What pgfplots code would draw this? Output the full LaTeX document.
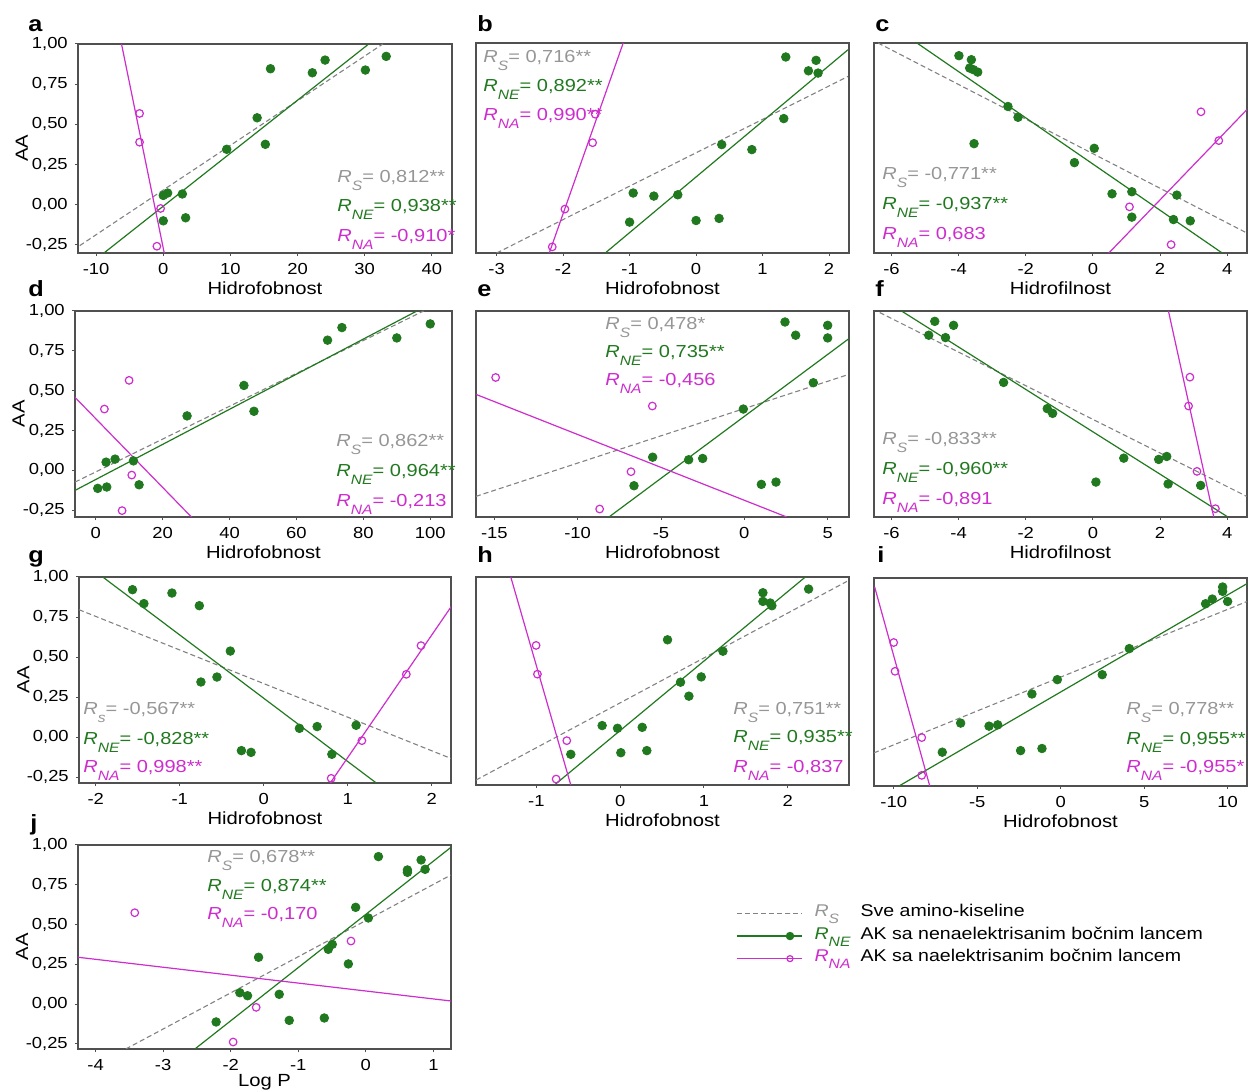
\documentclass[border=0pt]{standalone}
\usepackage{pgfplots}
\pgfplotsset{compat=1.18}
\usepackage{fontspec}
\setmainfont{Liberation Sans}[FakeStretch=1.15]
\definecolor{cgreen}{RGB}{33,121,31}
\definecolor{cmag}{RGB}{205,45,205}
\definecolor{cgray}{RGB}{150,150,150}
\definecolor{cdash}{RGB}{130,130,130}
\definecolor{cframe}{RGB}{80,80,80}
\newcommand{\Rs}[1]{\textit{R}\raisebox{-0.42em}{\fontsize{6.8}{7}\selectfont\textit{#1}}}
\pgfplotsset{
  panel/.style={
    scale only axis, anchor=north west, ymax=1,
    axis line style={draw=cframe, line width=0.6pt},
    tick align=outside, major tick length=1.6pt,
    tick style={draw=cframe, line width=0.5pt},
    xtick pos=bottom, ytick pos=left,
    ytick=\empty,
    /pgf/number format/assume math mode=true,
    tick label style={font=\fontsize{8}{9}\selectfont},
    label style={font=\fontsize{8.8}{10}\selectfont},
    xlabel style={at={(axis description cs:0.5,0)}, anchor=base, yshift=-21pt},
    ylabel style={at={(axis description cs:-0.15,0.5)}, anchor=center},
  },
  leftcol/.style={
    ytick={-0.25,0,0.25,0.5,0.75,1},
    yticklabels={{-0,25},{0,00},{0,25},{0,50},{0,75},{1,00}},
    ylabel={AA},
  },
  gdots/.style={only marks, mark=*, mark size=2.15pt, color=cgreen, forget plot},
  mcirc/.style={only marks, mark=o, mark size=1.9pt, mark options={line width=0.6pt}, color=cmag, forget plot},
  sline/.style={color=cdash, dash pattern=on 2.5pt off 1.5pt, line width=0.55pt, no marks, forget plot},
  neline/.style={color=cgreen, line width=0.6pt, no marks, forget plot},
  naline/.style={color=cmag, line width=0.6pt, no marks, forget plot},
}
\begin{document}
\begin{tikzpicture}
\useasboundingbox (0,0) rectangle (625pt,-545pt);
% ---------- a ----------
\begin{axis}[panel, leftcol, at={(39pt,-22pt)}, width=187pt, height=104.5pt,
  xmin=-12.7, xmax=43, ymin=-0.30, xtick={-10,0,...,40}, xlabel={Hidrofobnost}]
\addplot[sline] coordinates {(-12.44,-0.254) (32.7,1.0)};
\addplot[neline] coordinates {(-8.86,-0.301) (30.6,1.0)};
\addplot[naline] coordinates {(-6.22,1.0) (0.15,-0.301)};
\addplot[gdots] coordinates {(0,0.058) (0.65,0.073) (2.84,0.067) (0,-0.10) (3.33,-0.081) (9.45,0.345) (13.98,0.541) (15.2,0.376) (15.97,0.846) (22.2,0.821) (24.1,0.90) (30.1,0.838) (33.2,0.923)};
\addplot[mcirc] coordinates {(-3.53,0.568) (-3.53,0.389) (-0.4,-0.023) (-0.95,-0.258)};
\end{axis}
% ---------- b ----------
\begin{axis}[panel, at={(238pt,-21.5pt)}, width=186.5pt, height=105pt,
  xmin=-3.31, xmax=2.30, ymin=-0.306, xtick={-3,...,2}, xlabel={Hidrofobnost}]
\addplot[sline] coordinates {(-3.0,-0.306) (2.285,0.792)};
\addplot[neline] coordinates {(-1.366,-0.306) (2.285,0.958)};
\addplot[naline] coordinates {(-2.208,-0.306) (-1.096,1.0)};
\addplot[gdots] coordinates {(1.349,0.913) (1.805,0.892) (1.69,0.827) (1.835,0.813) (1.319,0.530) (0.386,0.368) (0.839,0.337) (-0.946,0.067) (-0.635,0.048) (-0.275,0.056) (-1.0,-0.114) (0.0,-0.104) (0.346,-0.091)};
\addplot[mcirc] coordinates {(-1.516,0.557) (-1.556,0.380) (-1.973,-0.033) (-2.163,-0.268)};
\end{axis}
% ---------- c ----------
\begin{axis}[panel, at={(437pt,-21.5pt)}, width=186.5pt, height=105pt,
  xmin=-6.52, xmax=4.59, ymin=-0.306, xtick={-6,-4,...,4}, xlabel={Hidrofilnost}]
\addplot[sline] coordinates {(-6.40,1.0) (4.58,-0.181)};
\addplot[neline] coordinates {(-5.24,1.0) (3.85,-0.306)};
\addplot[naline] coordinates {(0.476,-0.306) (4.58,0.584)};
\addplot[gdots] coordinates {(-3.99,0.921) (-3.62,0.896) (-3.67,0.844) (-3.56,0.834) (-3.43,0.819) (-2.53,0.605) (-2.23,0.538) (-3.54,0.374) (0.04,0.345) (-0.55,0.256) (0.57,0.062) (1.16,0.075) (2.5,0.054) (1.16,-0.083) (2.40,-0.098) (2.90,-0.106)};
\addplot[mcirc] coordinates {(3.22,0.572) (3.75,0.393) (1.09,-0.019) (2.33,-0.254)};
\end{axis}
% ---------- d ----------
\begin{axis}[panel, leftcol, at={(37.5pt,-155.5pt)}, width=188.5pt, height=103pt,
  xmin=-6.2, xmax=106.5, ymin=-0.292, xtick={0,20,...,100}, xlabel={Hidrofobnost}]
\addplot[sline] coordinates {(-6.18,-0.073) (98.0,1.0)};
\addplot[neline] coordinates {(-6.18,-0.125) (96.0,1.0)};
\addplot[naline] coordinates {(-6.18,0.458) (28.6,-0.292)};
\addplot[gdots] coordinates {(0.6,-0.1125) (3.29,-0.104) (3.09,0.052) (5.78,0.071) (11.27,0.060) (12.96,-0.090) (27.3,0.342) (44.3,0.533) (47.3,0.371) (69.3,0.817) (73.6,0.896) (90.0,0.831) (100,0.919)};
\addplot[mcirc] coordinates {(9.97,0.565) (2.59,0.385) (10.77,-0.029) (7.88,-0.252)};
\end{axis}
% ---------- e ----------
\begin{axis}[panel, at={(238pt,-155.5pt)}, width=186.5pt, height=103pt,
  xmin=-16.1, xmax=6.28, ymin=-0.292, xtick={-15,-10,...,5}, xlabel={Hidrofobnost}]
\addplot[sline] coordinates {(-16.1,-0.1625) (6.14,0.598)};
\addplot[neline] coordinates {(-8.12,-0.292) (6.28,0.827)};
\addplot[naline] coordinates {(-16.1,0.477) (2.54,-0.292)};
\addplot[gdots] coordinates {(2.44,0.931) (3.08,0.848) (5.0,0.910) (5.0,0.831) (4.14,0.55) (-0.06,0.385) (-5.5,0.083) (-3.34,0.067) (-2.5,0.075) (-6.62,-0.096) (1.02,-0.0875) (1.9,-0.073)};
\addplot[mcirc] coordinates {(-14.92,0.583) (-5.52,0.404) (-6.8,-0.008) (-8.68,-0.242)};
\end{axis}
% ---------- f ----------
\begin{axis}[panel, at={(437pt,-155.5pt)}, width=186.5pt, height=103pt,
  xmin=-6.52, xmax=4.59, ymin=-0.292, xtick={-6,-4,...,4}, xlabel={Hidrofilnost}]
\addplot[sline] coordinates {(-6.35,0.99) (4.58,-0.1625)};
\addplot[neline] coordinates {(-5.70,1.0) (4.02,-0.292)};
\addplot[naline] coordinates {(2.25,1.0) (3.60,-0.292)};
\addplot[gdots] coordinates {(-4.71,0.935) (-4.15,0.910) (-4.89,0.848) (-4.39,0.833) (-2.66,0.552) (-1.36,0.3875) (-1.2,0.358) (0.92,0.077) (1.96,0.069) (2.20,0.0875) (0.09,-0.073) (2.24,-0.085) (3.21,-0.094)};
\addplot[mcirc] coordinates {(2.89,0.585) (2.85,0.404) (3.10,-0.006) (3.65,-0.24)};
\end{axis}
% ---------- g ----------
\begin{axis}[panel, leftcol, at={(39.5pt,-288.5pt)}, width=186pt, height=103pt,
  xmin=-2.2, xmax=2.23, ymin=-0.285, xtick={-2,...,2}, xlabel={Hidrofobnost}]
\addplot[sline] coordinates {(-2.2,0.796) (2.235,-0.133)};
\addplot[neline] coordinates {(-1.917,1.0) (1.34,-0.285)};
\addplot[naline] coordinates {(0.787,-0.289) (2.235,0.817)};
\addplot[gdots] coordinates {(-1.563,0.921) (-1.427,0.834) (-1.093,0.900) (-0.767,0.821) (-0.398,0.538) (-0.748,0.345) (-0.557,0.376) (0.425,0.056) (0.636,0.067) (1.10,0.075) (0.811,-0.106) (-0.266,-0.083) (-0.151,-0.094)};
\addplot[mcirc] coordinates {(1.873,0.572) (1.698,0.393) (1.169,-0.021) (0.803,-0.256)};
\end{axis}
% ---------- h ----------
\begin{axis}[panel, at={(238pt,-288.5pt)}, width=186.5pt, height=104pt,
  xmin=-1.72, xmax=2.73, ymin=-0.295, xtick={-1,0,1,2}, xlabel={Hidrofobnost}]
\addplot[sline] coordinates {(-1.719,-0.264) (2.706,0.973)};
\addplot[neline] coordinates {(-0.784,-0.295) (2.209,1.0)};
\addplot[naline] coordinates {(-1.305,1.0) (-0.589,-0.295)};
\addplot[gdots] coordinates {(2.248,0.925) (1.703,0.902) (1.703,0.848) (1.79,0.838) (1.81,0.821) (0.565,0.609) (1.226,0.538) (0.72,0.345) (0.967,0.378) (0.82,0.258) (-0.215,0.075) (-0.032,0.058) (0.263,0.064) (-0.589,-0.104) (0.008,-0.094) (0.318,-0.081)};
\addplot[mcirc] coordinates {(-1.003,0.574) (-0.987,0.395) (-0.637,-0.019) (-0.764,-0.258)};
\end{axis}
% ---------- i ----------
\begin{axis}[panel, at={(437pt,-289pt)}, width=186.5pt, height=104pt,
  xmin=-11.18, xmax=11.16, ymin=-0.293, xtick={-10,-5,...,10}, xlabel={Hidrofobnost}]
\addplot[sline] coordinates {(-11.18,-0.087) (11.16,0.854)};
\addplot[neline] coordinates {(-9.68,-0.293) (11.16,0.965)};
\addplot[naline] coordinates {(-11.14,0.944) (-7.84,-0.293)};
\addplot[gdots] coordinates {(9.70,0.944) (9.70,0.917) (9.08,0.869) (8.68,0.840) (10.0,0.854) (4.11,0.561) (2.49,0.399) (-0.2,0.368) (-1.72,0.279) (-5.99,0.098) (-4.29,0.079) (-3.77,0.087) (-7.09,-0.083) (-2.40,-0.073) (-1.12,-0.060)};
\addplot[mcirc] coordinates {(-10.0,0.599) (-9.92,0.42) (-8.32,0.008) (-8.32,-0.227)};
\end{axis}
% ---------- j ----------
\begin{axis}[panel, leftcol, at={(39pt,-422.5pt)}, width=186.5pt, height=102pt,
  xmin=-4.26, xmax=1.26, ymin=-0.283, xtick={-4,...,1}, xlabel={Log P},
  xlabel style={yshift=2.3pt},
  legend style={at={(axis description cs:1.748,0.735)}, anchor=north west, draw=none, fill=none,
    font=\fontsize{8.5}{10}\selectfont, row sep=1.3pt, column sep=6pt,
    nodes={inner sep=0pt, text height=6.5pt, text depth=3.5pt}},
  legend cell align=left,
  legend image code/.code={\draw[#1,mark repeat=2,mark phase=2] plot coordinates {(0pt,0pt) (26.5pt,0pt) (32.5pt,0pt)};}]
\addlegendimage{cdash, line width=0.55pt, dash pattern=on 2.5pt off 1.5pt}
\addlegendentry{\makebox[23pt][l]{\textcolor{cgray}{\Rs{S}}}Sve amino-kiseline}
\addlegendimage{cgreen, line width=0.6pt, mark=*, mark size=1.8pt}
\addlegendentry{\makebox[23pt][l]{\textcolor{cgreen}{\Rs{NE}}}AK sa nenaelektrisanim bočnim lancem}
\addlegendimage{cmag, line width=0.6pt, mark=o, mark size=1.5pt, mark options={solid}}
\addlegendentry{\makebox[23pt][l]{\textcolor{cmag}{\Rs{NA}}}AK sa naelektrisanim bočnim lancem}
\addplot[sline] coordinates {(-3.553,-0.283) (1.258,0.811)};
\addplot[neline] coordinates {(-2.53,-0.283) (1.258,0.985)};
\addplot[naline] coordinates {(-4.26,0.294) (1.258,0.019)};
\addplot[gdots] coordinates {(0.186,0.927) (0.818,0.906) (0.615,0.843) (0.615,0.828) (0.877,0.847) (-0.151,0.608) (0.037,0.541) (-0.497,0.375) (-0.556,0.344) (-0.259,0.252) (-1.588,0.294) (-1.865,0.071) (-1.751,0.052) (-1.282,0.061) (-2.216,-0.113) (-1.134,-0.103) (-0.615,-0.088)};
\addplot[mcirc] coordinates {(-3.42,0.574) (-0.220,0.396) (-1.623,-0.021) (-1.964,-0.239)};
\end{axis}
% ---------- texts ----------
\begin{scope}[x=0.5pt, y=-0.5pt, every node/.style={anchor=base west, inner sep=0pt}]
\begin{scope}[font=\bfseries\fontsize{11}{12}\selectfont]
\node at (28,32) {a}; \node at (477,32) {b}; \node at (875,32) {c};
\node at (28,297) {d}; \node at (477,297) {e}; \node at (875,297) {f};
\node at (28,563) {g}; \node at (477,563) {h}; \node at (877,563) {i};
\node at (30,831) {j};
\end{scope}
\begin{scope}[font=\fontsize{8.7}{10}\selectfont]
% a
\node[text=cgray] at (337,183) {\Rs{S}= 0,812**};
\node[text=cgreen] at (337,212) {\Rs{NE}= 0,938**};
\node[text=cmag] at (337,242) {\Rs{NA}= -0,910*};
% b
\node[text=cgray] at (483,63) {\Rs{S}= 0,716**};
\node[text=cgreen] at (483,92) {\Rs{NE}= 0,892**};
\node[text=cmag] at (483,121) {\Rs{NA}= 0,990**};
% c
\node[text=cgray] at (882,180) {\Rs{S}= -0,771**};
\node[text=cgreen] at (882,210) {\Rs{NE}= -0,937**};
\node[text=cmag] at (882,240) {\Rs{NA}= 0,683};
% d
\node[text=cgray] at (336,447) {\Rs{S}= 0,862**};
\node[text=cgreen] at (336,477) {\Rs{NE}= 0,964**};
\node[text=cmag] at (336,507) {\Rs{NA}= -0,213};
% e
\node[text=cgray] at (605,330) {\Rs{S}= 0,478*};
\node[text=cgreen] at (605,358) {\Rs{NE}= 0,735**};
\node[text=cmag] at (605,386) {\Rs{NA}= -0,456};
% f
\node[text=cgray] at (882,445) {\Rs{S}= -0,833**};
\node[text=cgreen] at (882,475) {\Rs{NE}= -0,960**};
\node[text=cmag] at (882,505) {\Rs{NA}= -0,891};
% g
\node[text=cgray] at (83,715) {\Rs{s}= -0,567**};
\node[text=cgreen] at (83,745) {\Rs{NE}= -0,828**};
\node[text=cmag] at (83,773) {\Rs{NA}= 0,998**};
% h
\node[text=cgray] at (733,715) {\Rs{S}= 0,751**};
\node[text=cgreen] at (733,743) {\Rs{NE}= 0,935**};
\node[text=cmag] at (733,773) {\Rs{NA}= -0,837};
% i
\node[text=cgray] at (1126,715) {\Rs{S}= 0,778**};
\node[text=cgreen] at (1126,745) {\Rs{NE}= 0,955**};
\node[text=cmag] at (1126,773) {\Rs{NA}= -0,955*};
% j
\node[text=cgray] at (207,863) {\Rs{S}= 0,678**};
\node[text=cgreen] at (207,892) {\Rs{NE}= 0,874**};
\node[text=cmag] at (207,920) {\Rs{NA}= -0,170};
\end{scope}
\end{scope}
\end{tikzpicture}
\end{document}
